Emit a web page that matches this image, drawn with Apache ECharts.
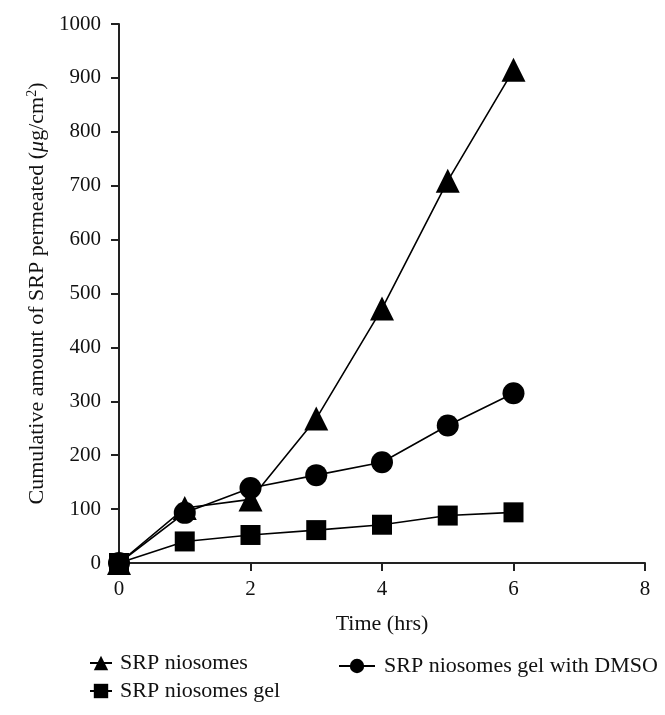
<!DOCTYPE html>
<html>
<head>
<meta charset="utf-8">
<script src="https://cdn.jsdelivr.net/npm/echarts@6/dist/echarts.min.js"></script>
<style>html,body{margin:0;padding:0;background:#fff;}#c{width:665px;height:715px;}</style>
</head>
<body>
<div id="c"></div>
<script>
const times = [0, 1, 2, 3, 4, 5, 6];
const niosomes = [0, 102, 118, 268, 472, 709, 915];
const gelDMSO = [0, 93, 139, 163, 187, 255, 315];
const gel = [0, 40, 52, 61, 71, 88, 94];
const xTicks = [0, 2, 4, 6, 8];
const yTicks = [0, 100, 200, 300, 400, 500, 600, 700, 800, 900, 1000];

const FONT = 'Liberation Serif';
const chart = echarts.init(document.getElementById('c'), null, {renderer: 'canvas'});
const pair = (ys) => times.map((t, i) => [t, ys[i]]);
const axisCommon = {
  axisLine: {show: true, lineStyle: {color: '#222', width: 2}},
  axisTick: {show: true, inside: false, length: 8, lineStyle: {color: '#222', width: 2}},
  splitLine: {show: false},
  axisLabel: {color: '#111', fontFamily: FONT, fontSize: 21, formatter: (v) => String(v)},
  nameTextStyle: {color: '#111', fontFamily: FONT, fontSize: 22}
};
const lineSeries = (name, data, symbol, size) => ({
  name, type: 'line', data: pair(data), symbol, symbolSize: size,
  lineStyle: {color: '#000', width: 1.6}, itemStyle: {color: '#000'},
  showSymbol: true, animation: false
});
const legendText = (pad) => ({color: '#111', fontFamily: FONT, fontSize: 22, padding: [0, 0, 0, pad]});
chart.setOption({
  animation: false,
  grid: {left: 119, right: 20, top: 24, bottom: 152, containLabel: false},
  xAxis: Object.assign({}, axisCommon, {
    type: 'value', min: xTicks[0], max: xTicks[xTicks.length - 1], interval: 2,
    name: 'Time (hrs)', nameLocation: 'middle', nameGap: 50,
    axisLabel: Object.assign({}, axisCommon.axisLabel, {margin: 16})
  }),
  yAxis: Object.assign({}, axisCommon, {
    type: 'value', min: yTicks[0], max: yTicks[yTicks.length - 1], interval: 100,
    name: '{t|Cumulative amount of SRP permeated (}{i|μ}{t|g/cm}{s|2}{t|)}',
    nameLocation: 'middle', nameGap: 70, nameRotate: 90,
    nameTextStyle: {
      color: '#111', fontFamily: FONT, fontSize: 22,
      rich: {
        t: {fontFamily: FONT, fontSize: 22, color: '#111'},
        i: {fontFamily: FONT, fontSize: 22, fontStyle: 'italic', color: '#111'},
        s: {fontFamily: FONT, fontSize: 14, color: '#111', verticalAlign: 'top', padding: [0, 0, 10, 0]}
      }
    },
    axisLabel: Object.assign({}, axisCommon.axisLabel, {margin: 18})
  }),
  legend: [
    {data: ['SRP niosomes'], left: 84, top: 647, itemWidth: 22, itemHeight: 18, textStyle: legendText(3)},
    {data: ['SRP niosomes gel with DMSO'], left: 333, top: 650, itemWidth: 36, itemHeight: 18, textStyle: legendText(4)},
    {data: ['SRP niosomes gel'], left: 84, top: 675, itemWidth: 22, itemHeight: 18, textStyle: legendText(3)}
  ],
  series: [
    lineSeries('SRP niosomes', niosomes, 'triangle', 24),
    lineSeries('SRP niosomes gel with DMSO', gelDMSO, 'circle', 22),
    lineSeries('SRP niosomes gel', gel, 'rect', 20)
  ]
});
</script>
</body>
</html>
